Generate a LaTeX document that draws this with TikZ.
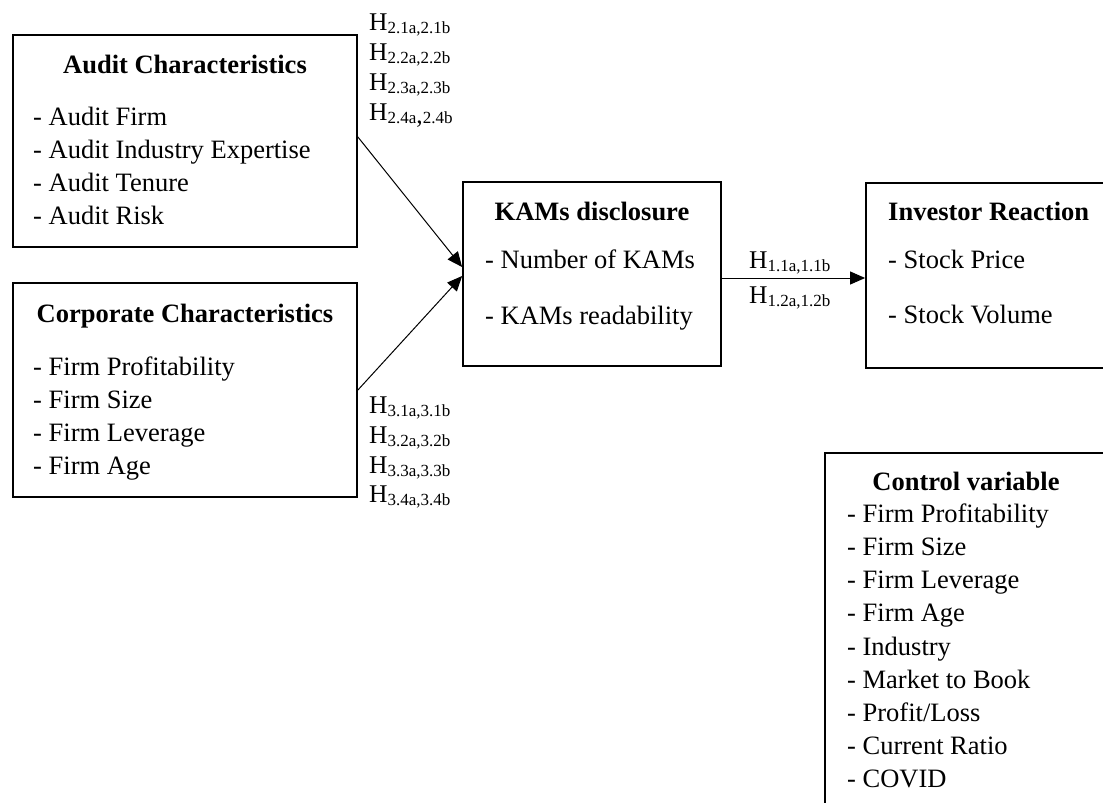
\documentclass[tikz,border=0pt]{standalone}
\usepackage{fontspec}
\setmainfont{Liberation Serif}
\usetikzlibrary{arrows.meta}
\newcommand{\bodysz}{\fontsize{26.5}{33}\selectfont}
\newcommand{\hsz}{\fontsize{25.5}{25.5}\selectfont}
\newcommand{\subsz}{\fontsize{17}{17}\selectfont}
\newcommand{\hyplab}[1]{{\hsz H\raisebox{-3pt}{\subsz #1}}}
\begin{document}
\begin{tikzpicture}[x=1pt,y=-1pt,
  box/.style={draw, line width=1.8pt, rectangle, inner sep=0pt},
  txt/.style={inner sep=0pt, anchor=base west, font=\bodysz},
  ttl/.style={inner sep=0pt, anchor=base, font=\bodysz\bfseries},
  ttlw/.style={inner sep=0pt, anchor=base west, font=\bodysz\bfseries},
  hl/.style={inner sep=0pt, anchor=base west},
  arr/.style={line width=1pt, -{Triangle[length=15pt,width=13pt]}}]
\useasboundingbox (0,0) rectangle (1103,803);
\clip (0,0) rectangle (1103,803);
% boxes
\node[box, minimum width=344pt, minimum height=212pt] (audit) at (185,141) {};
\node[box, minimum width=344pt, minimum height=214pt] (corp) at (185,390) {};
\node[box, minimum width=258pt, minimum height=184pt] (kam) at (592,274) {};
\node[box, minimum width=264pt, minimum height=185pt] (inv) at (998,275.5) {};
\node[box, minimum width=305pt, minimum height=377pt] (ctrl) at (977.5,641.5) {};
% audit
\node[ttl] (auditT) at (185,73) {Audit Characteristics};
\node[txt] (a1) at (33,125) {- Audit Firm};
\node[txt] (a2) at (33,158) {- Audit Industry Expertise};
\node[txt] (a3) at (33,191) {- Audit Tenure};
\node[txt] (a4) at (33,224) {- Audit Risk};
% corporate
\node[ttl] (corpT) at (185,322) {Corporate Characteristics};
\node[txt] (c1) at (33,375) {- Firm Profitability};
\node[txt] (c2) at (33,408) {- Firm Size};
\node[txt] (c3) at (33,441) {- Firm Leverage};
\node[txt] (c4) at (33,474) {- Firm Age};
% kams
\node[ttl] (kamT) at (592,220) {KAMs disclosure};
\node[txt] (k1) at (485,268) {- Number of KAMs};
\node[txt] (k2) at (485,324) {- KAMs readability};
% investor
\node[ttlw] (invT) at (888,220) {Investor Reaction};
\node[txt] (i1) at (888,268) {- Stock Price};
\node[txt] (i2) at (888,323) {- Stock Volume};
% control
\node[ttl] (ctrlT) at (966,490) {Control variable};
\node[txt] (v1) at (847,522) {- Firm Profitability};
\node[txt] (v2) at (847,555) {- Firm Size};
\node[txt] (v3) at (847,588) {- Firm Leverage};
\node[txt] (v4) at (847,621) {- Firm Age};
\node[txt] (v5) at (847,655) {- Industry};
\node[txt] (v6) at (847,688) {- Market to Book};
\node[txt] (v7) at (847,721) {- Profit/Loss};
\node[txt] (v8) at (847,754) {- Current Ratio};
\node[txt] (v9) at (847,787) {- COVID};
% hypothesis labels
\node[hl] (h21) at (369,30) {\hyplab{2.1a,2.1b}};
\node[hl] (h22) at (369,60) {\hyplab{2.2a,2.2b}};
\node[hl] (h23) at (369,90) {\hyplab{2.3a,2.3b}};
\node[hl] (h24) at (369,120) {{\hsz H\raisebox{-3pt}{\subsz 2.4a{\hsz,}2.4b}}};
\node[hl] (h31) at (369,413) {\hyplab{3.1a,3.1b}};
\node[hl] (h32) at (369,443) {\hyplab{3.2a,3.2b}};
\node[hl] (h33) at (369,473) {\hyplab{3.3a,3.3b}};
\node[hl] (h34) at (369,502) {\hyplab{3.4a,3.4b}};
\node[hl] (h11) at (749,268) {\hyplab{1.1a,1.1b}};
\node[hl] (h12) at (749,303) {\hyplab{1.2a,1.2b}};
% connectors
\draw[arr] ([yshift=4pt]audit.east) -- ([yshift=7pt]kam.west);
\draw[arr] (corp.east) -- ([yshift=-2pt]kam.west);
\draw[arr] ([yshift=-4pt]kam.east) -- ([yshift=-2.5pt]inv.west);
\end{tikzpicture}
\end{document}
